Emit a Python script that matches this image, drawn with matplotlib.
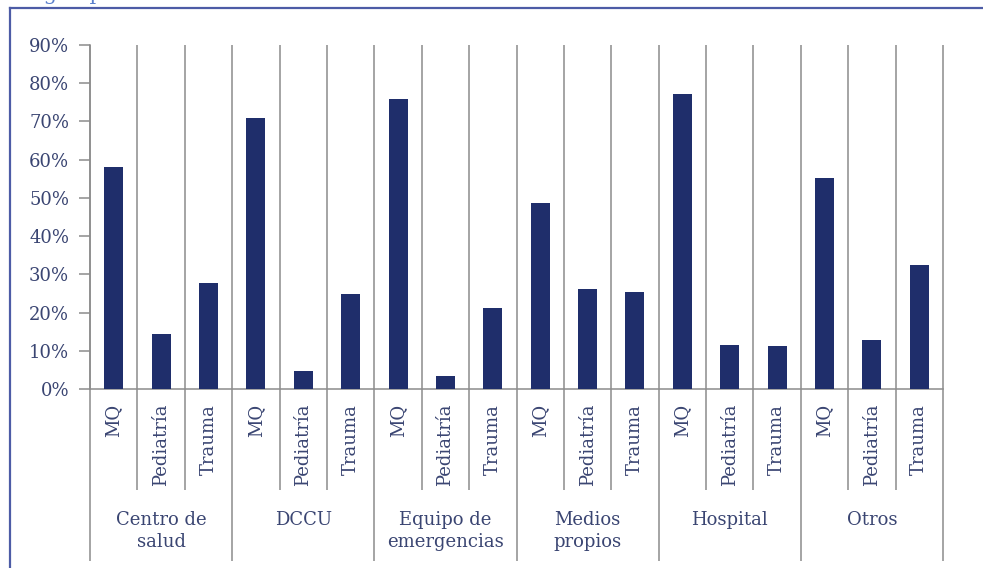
import matplotlib
matplotlib.use("Agg")
import matplotlib.pyplot as plt
from matplotlib.lines import Line2D
import numpy as np

groups = ["Centro de\nsalud", "DCCU", "Equipo de\nemergencias", "Medios\npropios", "Hospital", "Otros"]
subcats = ["MQ", "Pediatría", "Trauma"]
mq = [58.0, 70.9, 75.8, 48.6, 77.2, 55.1]
pediatria = [14.4, 4.7, 3.4, 26.2, 11.5, 12.9]
trauma = [27.8, 24.9, 21.3, 25.5, 11.3, 32.5]
yticks = [0, 10, 20, 30, 40, 50, 60, 70, 80, 90]
title = "Origen por áreas"

W, H = 983, 568
fig = plt.figure(figsize=(W / 100, H / 100), dpi=100)
fig.patch.set_facecolor("white")

bar_c = "#1f2e6b"
txt_c = "#3a4572"
grid_c = "#8c8c8c"
font = "DejaVu Serif"

ax = fig.add_axes([90 / W, (H - 389) / H, (943 - 90) / W, (389 - 45) / H])

values = []
labels = []
for g in range(len(groups)):
    values += [mq[g], pediatria[g], trauma[g]]
    labels += subcats
n = len(values)
x = np.arange(n) + 0.5
ax.bar(x, values, width=0.4, color=bar_c, zorder=3)

ax.set_xlim(0, n)
ax.set_ylim(0, 90)
ax.set_yticks(yticks)
ax.set_yticklabels([f"{v}%" for v in yticks], fontsize=13, color=txt_c, family=font)
ax.tick_params(axis="y", length=8, width=1.1, color=grid_c, pad=7)
ax.set_xticks([])
for s in ["top", "right"]:
    ax.spines[s].set_visible(False)
for s in ["left", "bottom"]:
    ax.spines[s].set_color(grid_c)
    ax.spines[s].set_linewidth(1.1)

tr = ax.get_xaxis_transform()
short_bot = (389 - 490) / 344
long_bot = (389 - 561) / 344
for k in range(0, n + 1):
    bot = long_bot if k % 3 == 0 else short_bot
    ax.plot([k, k], [1.0, bot], transform=tr, color=grid_c, lw=1.1,
            clip_on=False, zorder=2, solid_capstyle="butt")

sub_top = (389 - 404) / 344
for i, lab in enumerate(labels):
    ax.text(x[i], sub_top, lab, transform=tr, rotation=90, ha="center", va="top",
            fontsize=13, color=txt_c, family=font)

grp_top = (389 - 511) / 344
for g, lab in enumerate(groups):
    ax.text(g * 3 + 1.5, grp_top, lab, transform=tr, ha="center", va="top",
            multialignment="center", linespacing=1.3,
            fontsize=13, color=txt_c, family=font)

# outer frame
border_c = "#4d5ca6"
fig.add_artist(Line2D([10 / W, 1.0], [1 - 8 / H, 1 - 8 / H], color=border_c, lw=1.6,
                      transform=fig.transFigure))
fig.add_artist(Line2D([10 / W, 10 / W], [0, 1 - 8 / H], color=border_c, lw=1.6,
                      transform=fig.transFigure))

fig.text(10 / W, 1 - 0.5 / H, title, ha="left", va="baseline", fontsize=15,
         color="#5b80cc", family=font)

fig.savefig("out.png", dpi=100, facecolor="white")
